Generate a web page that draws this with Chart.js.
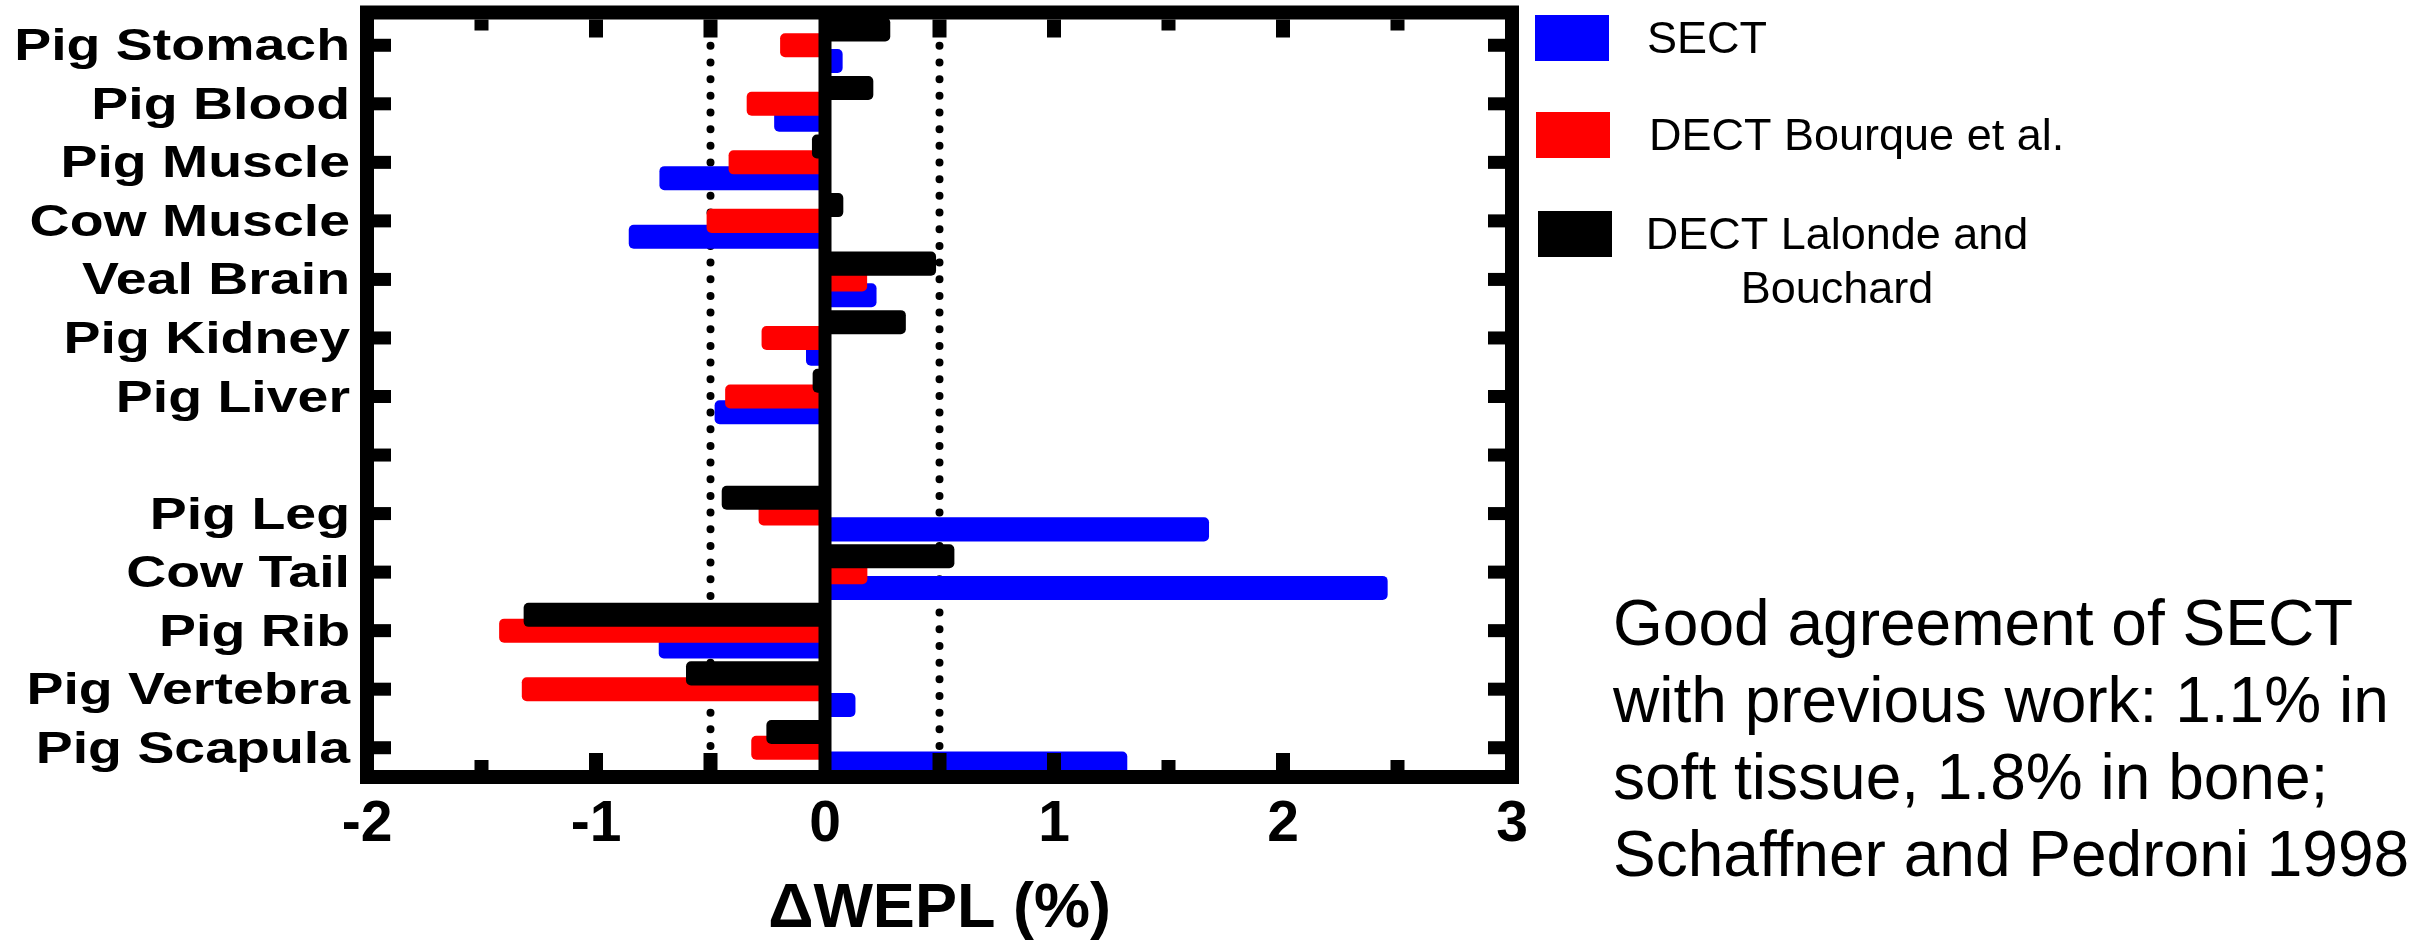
<!DOCTYPE html>
<html><head><meta charset="utf-8">
<script src="https://cdn.jsdelivr.net/npm/chart.js@4/dist/chart.umd.min.js"></script>
<style>html,body{margin:0;padding:0;background:#fff;overflow:hidden}</style>
</head><body>
<canvas id="c" width="2432" height="946"></canvas>
<script>
const categories = ['Pig Stomach','Pig Blood','Pig Muscle','Cow Muscle','Veal Brain','Pig Kidney','Pig Liver','','Pig Leg','Cow Tail','Pig Rib','Pig Vertebra','Pig Scapula'];
const sectValues    = [0.077,-0.222,-0.723,-0.857,0.225,-0.083,-0.482,null,1.677,2.457,-0.726,0.133,1.32];
const bourqueValues = [-0.196,-0.342,-0.421,-0.517,0.184,-0.277,-0.436,null,-0.29,0.185,-1.423,-1.324,-0.322];
const lalondeValues = [0.285,0.211,-0.057,0.080,0.485,0.353,-0.054,null,-0.451,0.565,-1.316,-0.607,-0.256];
const xTickValues = [-2,-1,0,1,2,3];
const xMajorMarks = [-1,-0.5,0.5,1,2];
const xMinorMarks = [-1.5,1.5,2.5];
const refLines = [-0.5, 0.5];
const seriesNames = ['SECT','DECT Bourque et al.','DECT Lalonde and Bouchard'];
const seriesColors = ['#0000ff','#ff0000','#000000'];
const axisTitle = 'ΔWEPL (%)';
const noteLines = ['Good agreement of SECT','with previous work: 1.1% in','soft tissue, 1.8% in bone;','Schaffner and Pedroni 1998'];

const FAM = '"Liberation Sans", Arial, sans-serif';

const deco = {
  id: 'deco',
  beforeDatasetsDraw(chart) {
    const {ctx, chartArea: a, scales: {x}} = chart;
    const T = a.top - 3.5;
    ctx.save();
    ctx.strokeStyle = '#000'; ctx.lineWidth = 8; ctx.lineCap = 'round';
    ctx.setLineDash([0, 16.67]);
    refLines.forEach(v => {
      const px = x.getPixelForValue(v);
      ctx.beginPath(); ctx.moveTo(px, T); ctx.lineTo(px, a.bottom); ctx.stroke();
    });
    ctx.restore();
  },
  afterDatasetsDraw(chart) {
    const {ctx, chartArea: a, scales: {x, y}} = chart;
    const L = a.left, R = a.right, T = a.top - 3.5, B = a.bottom;
    ctx.save();
    ctx.fillStyle = '#000';
    const z = x.getPixelForValue(0);
    ctx.fillRect(z - 6.5, T, 13, B - T);
    ctx.lineWidth = 14; ctx.strokeStyle = '#000'; ctx.lineJoin = 'miter';
    ctx.strokeRect(L, T, R - L, B - T);
    xMajorMarks.forEach(v => {
      const px = x.getPixelForValue(v);
      ctx.fillRect(px - 7, T + 7, 14, 18);
      ctx.fillRect(px - 7, B - 7 - 17, 14, 17);
    });
    xMinorMarks.forEach(v => {
      const px = x.getPixelForValue(v);
      ctx.fillRect(px - 7, T + 7, 14, 11);
      ctx.fillRect(px - 7, B - 7 - 10, 14, 10);
    });
    categories.forEach((c, i) => {
      const py = y.getPixelForTick(i);
      ctx.fillRect(L + 7, py - 6.5, 17, 13);
      ctx.fillRect(R - 7 - 17, py - 6.5, 17, 13);
    });
    // y labels (stretched bold)
    ctx.font = 'bold 44px ' + FAM;
    ctx.textAlign = 'right'; ctx.textBaseline = 'alphabetic';
    categories.forEach((c, i) => {
      if (!c) return;
      const py = y.getPixelForTick(i);
      ctx.save();
      ctx.translate(350, py + 15);
      ctx.scale(1.26, 1);
      ctx.fillText(c, 0, 0);
      ctx.restore();
    });
    ctx.restore();
  },
  afterDraw(chart) {
    const {ctx} = chart;
    ctx.save();
    // legend
    const boxes = [[1535, 15], [1536, 112], [1538, 211]];
    boxes.forEach((b, i) => { ctx.fillStyle = seriesColors[i]; ctx.fillRect(b[0], b[1], 74, 46); });
    ctx.fillStyle = '#000';
    ctx.font = '45px ' + FAM;
    ctx.textBaseline = 'alphabetic';
    ctx.textAlign = 'left';
    ctx.fillText(seriesNames[0], 1647, 53);
    ctx.fillText(seriesNames[1], 1649, 150);
    ctx.textAlign = 'center';
    const parts = seriesNames[2].split(' ');
    ctx.fillText(parts.slice(0, 3).join(' '), 1837, 249);
    ctx.fillText(parts.slice(3).join(' '), 1837, 303);
    // note
    ctx.textAlign = 'left';
    ctx.font = '65px ' + FAM;
    noteLines.forEach((t, i) => {
      ctx.save();
      ctx.translate(1613, 645 + i * 77);
      ctx.scale(0.985, 1);
      ctx.fillText(t, 0, 0);
      ctx.restore();
    });
    ctx.restore();
  }
};

new Chart(document.getElementById('c'), {
  type: 'bar',
  data: {
    labels: categories,
    datasets: [
      {label: seriesNames[2], data: lalondeValues, backgroundColor: seriesColors[2]},
      {label: seriesNames[1], data: bourqueValues, backgroundColor: seriesColors[1]},
      {label: seriesNames[0], data: sectValues, backgroundColor: seriesColors[0]}
    ]
  },
  options: {
    indexAxis: 'y',
    responsive: false,
    animation: false,
    devicePixelRatio: 1,
    datasets: {bar: {categoryPercentage: 0.81, barPercentage: 1.52, borderRadius: 5, borderSkipped: 'start', borderWidth: 0}},
    layout: {padding: {top: 16, right: 920, left: 0, bottom: 0}},
    plugins: {legend: {display: false}, tooltip: {enabled: false}},
    scales: {
      x: {
        type: 'linear', min: -2, max: 3, position: 'bottom',
        afterBuildTicks: s => { s.ticks = xTickValues.map(v => ({value: v})); },
        ticks: {font: {family: FAM, size: 57, weight: 'bold', lineHeight: 1.2}, color: '#000', padding: 14, autoSkip: false, maxRotation: 0},
        grid: {display: false, drawTicks: false},
        border: {display: false},
        title: {display: true, text: axisTitle, font: {family: FAM, size: 63, weight: 'bold', lineHeight: 1.14}, color: '#000', padding: {top: 0, bottom: 0}},
        afterFit: s => { s.height = 169; }
      },
      y: {
        type: 'category', position: 'left', offset: true,
        ticks: {display: false},
        grid: {display: false, drawTicks: false},
        border: {display: false},
        afterFit: s => { s.width = 367; }
      }
    }
  },
  plugins: [deco]
});
</script>
</body></html>
